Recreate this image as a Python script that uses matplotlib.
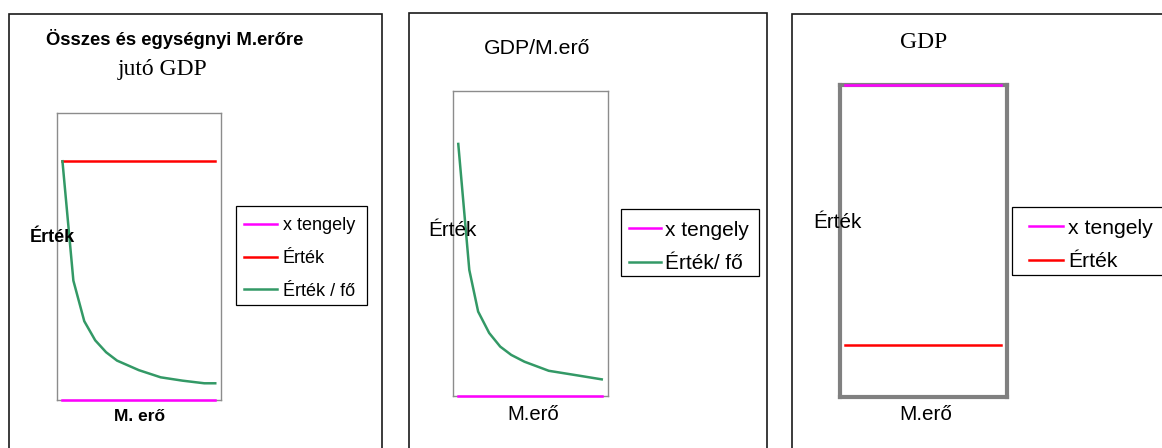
#!/usr/bin/env python3

import matplotlib
matplotlib.use("Agg")
import matplotlib.pyplot as plt
from matplotlib.patches import Rectangle


# =========================
# Data
# =========================
# Panel 1: total and per-labour GDP
P1_X = [1, 2, 3, 4, 5, 6, 8, 10, 12, 14, 15]
P1_PER_HEAD = [100, 50, 33, 25, 20, 16.5, 12.5, 9.5, 8.1, 7.0, 7.0]
P1_LINE_X = [1, 15]
P1_TOTAL = [100, 100]
P1_AXIS = [0, 0]

# Panel 2: GDP per labour
P2_X = [1, 2.0, 2.8, 3.8, 4.8, 5.8, 7.0, 9.2, 11.9, 14]
P2_PER_HEAD = [100, 50, 33.5, 25, 19.6, 16.3, 13.6, 10, 8.1, 6.6]
P2_LINE_X = [1, 14]
P2_AXIS = [0, 0]

# Panel 3: GDP (y axis inverted in the original)
P3_LINE_X = [1, 14]
P3_TOTAL = [100, 100]
P3_AXIS = [0, 0]

LBL_AXIS = "x tengely"
LBL_TOTAL = "Érték"
LBL_HEAD_1 = "Érték / fő"
LBL_HEAD_2 = "Érték/ fő"

MAGENTA = "#FF00FF"
RED = "#FF0000"
GREEN = "#339966"
FRAME_GREY = "#8C8C8C"

SANS = "Liberation Sans"
SERIF = "Liberation Serif"

W, H = 1162, 448
DPI = 100
OUTPUT_PATH = "out.png"


def box(x0, y0, x1, y1):
    # pixel box (top-left origin) -> figure fraction rect
    return [x0 / W, 1 - y1 / H, (x1 - x0) / W, (y1 - y0) / H]


def frame(fig, x0, y0, x1, y1, lw=1.2, color="#1a1a1a"):
    fig.patches.append(Rectangle((x0 / W, 1 - y1 / H), (x1 - x0) / W, (y1 - y0) / H,
                                 transform=fig.transFigure, fill=False,
                                 edgecolor=color, linewidth=lw, zorder=6))


def fig_text(fig, x, y, s, **kw):
    fig.text(x / W, 1 - y / H, s, ha="center", va="center", **kw)


def style_axes(ax, lw, color):
    ax.set_xticks([])
    ax.set_yticks([])
    for sp in ax.spines.values():
        sp.set_color(color)
        sp.set_linewidth(lw)


def add_legend(ax, fig, x, y, fontsize, handle_px, pad_px, spacing):
    # frameless legend; the box round it is drawn separately
    em = fontsize * DPI / 72
    ax.legend(
        loc="upper left",
        bbox_to_anchor=(x / W, 1 - y / H),
        bbox_transform=fig.transFigure,
        frameon=False,
        borderpad=0,
        borderaxespad=0,
        handlelength=handle_px / em,
        handletextpad=pad_px / em,
        labelspacing=spacing,
        prop={"family": SANS, "size": fontsize},
    )


def main():
    fig = plt.figure(figsize=(W / DPI, H / DPI), dpi=DPI)

    # outer panel frames
    frame(fig, 9, 14.5, 382, 470)
    frame(fig, 409, 13, 767, 470)
    frame(fig, 792, 13.5, 1180, 470)

    lw = 1.8

    # ---- panel 1
    ax1 = fig.add_axes(box(57, 113, 220.7, 400))
    ax1.plot(P1_LINE_X, P1_AXIS, color=MAGENTA, lw=lw, label=LBL_AXIS, clip_on=False, zorder=4)
    ax1.plot(P1_LINE_X, P1_TOTAL, color=RED, lw=lw, label=LBL_TOTAL, clip_on=False)
    ax1.plot(P1_X, P1_PER_HEAD, color=GREEN, lw=lw, label=LBL_HEAD_1, clip_on=False)
    ax1.set_xlim(0.5, 15.5)
    ax1.set_ylim(0, 120.2)
    style_axes(ax1, 1.0, FRAME_GREY)
    add_legend(ax1, fig, 244, 217.5, 13, 33, 6, 0.86)
    frame(fig, 236, 206, 367, 305, lw=0.9, color="black")

    fig_text(fig, 175, 39, "Összes és egységnyi M.erőre", family=SANS, fontsize=13.3, fontweight="bold")
    fig_text(fig, 163, 70, "jutó GDP", family=SERIF, fontsize=17)
    fig_text(fig, 52.5, 237, "Érték", family=SANS, fontsize=13, fontweight="bold")
    fig_text(fig, 140, 416, "M. erő", family=SANS, fontsize=12.5, fontweight="bold")

    # ---- panel 2
    ax2 = fig.add_axes(box(453.3, 91, 607.7, 396))
    ax2.plot(P2_LINE_X, P2_AXIS, color=MAGENTA, lw=lw, label=LBL_AXIS, clip_on=False, zorder=4)
    ax2.plot(P2_X, P2_PER_HEAD, color=GREEN, lw=lw, label=LBL_HEAD_2, clip_on=False)
    ax2.set_xlim(0.55, 14.54)
    ax2.set_ylim(0, 121)
    style_axes(ax2, 1.0, FRAME_GREY)
    add_legend(ax2, fig, 629, 220.7, 15, 32, 4, 0.69)
    frame(fig, 621, 209, 759, 276, lw=0.9, color="black")

    fig_text(fig, 537, 49, "GDP/M.erő", family=SANS, fontsize=15.3)
    fig_text(fig, 452.5, 230, "Érték", family=SANS, fontsize=14.9)
    fig_text(fig, 533.5, 414, "M.erő", family=SANS, fontsize=14.6)

    # ---- panel 3
    ax3 = fig.add_axes(box(839.5, 85.5, 1006.5, 396.5))
    ax3.plot(P3_LINE_X, P3_AXIS, color=MAGENTA, lw=lw, label=LBL_AXIS, clip_on=False, zorder=4)
    ax3.plot(P3_LINE_X, P3_TOTAL, color=RED, lw=lw, label=LBL_TOTAL, clip_on=False)
    ax3.set_xlim(0.54, 14.48)
    ax3.set_ylim(120, 0)
    style_axes(ax3, 3.0, "#808080")
    add_legend(ax3, fig, 1029, 218.7, 15.2, 34, 5, 0.69)
    frame(fig, 1012, 207, 1175, 275, lw=0.9, color="black")

    fig_text(fig, 924, 43, "GDP", family=SERIF, fontsize=17)
    fig_text(fig, 837, 222, "Érték", family=SANS, fontsize=14.9, zorder=5)
    fig_text(fig, 926, 414, "M.erő", family=SANS, fontsize=14.9)

    fig.savefig(OUTPUT_PATH, dpi=DPI)
    plt.close(fig)


if __name__ == "__main__":
    main()
